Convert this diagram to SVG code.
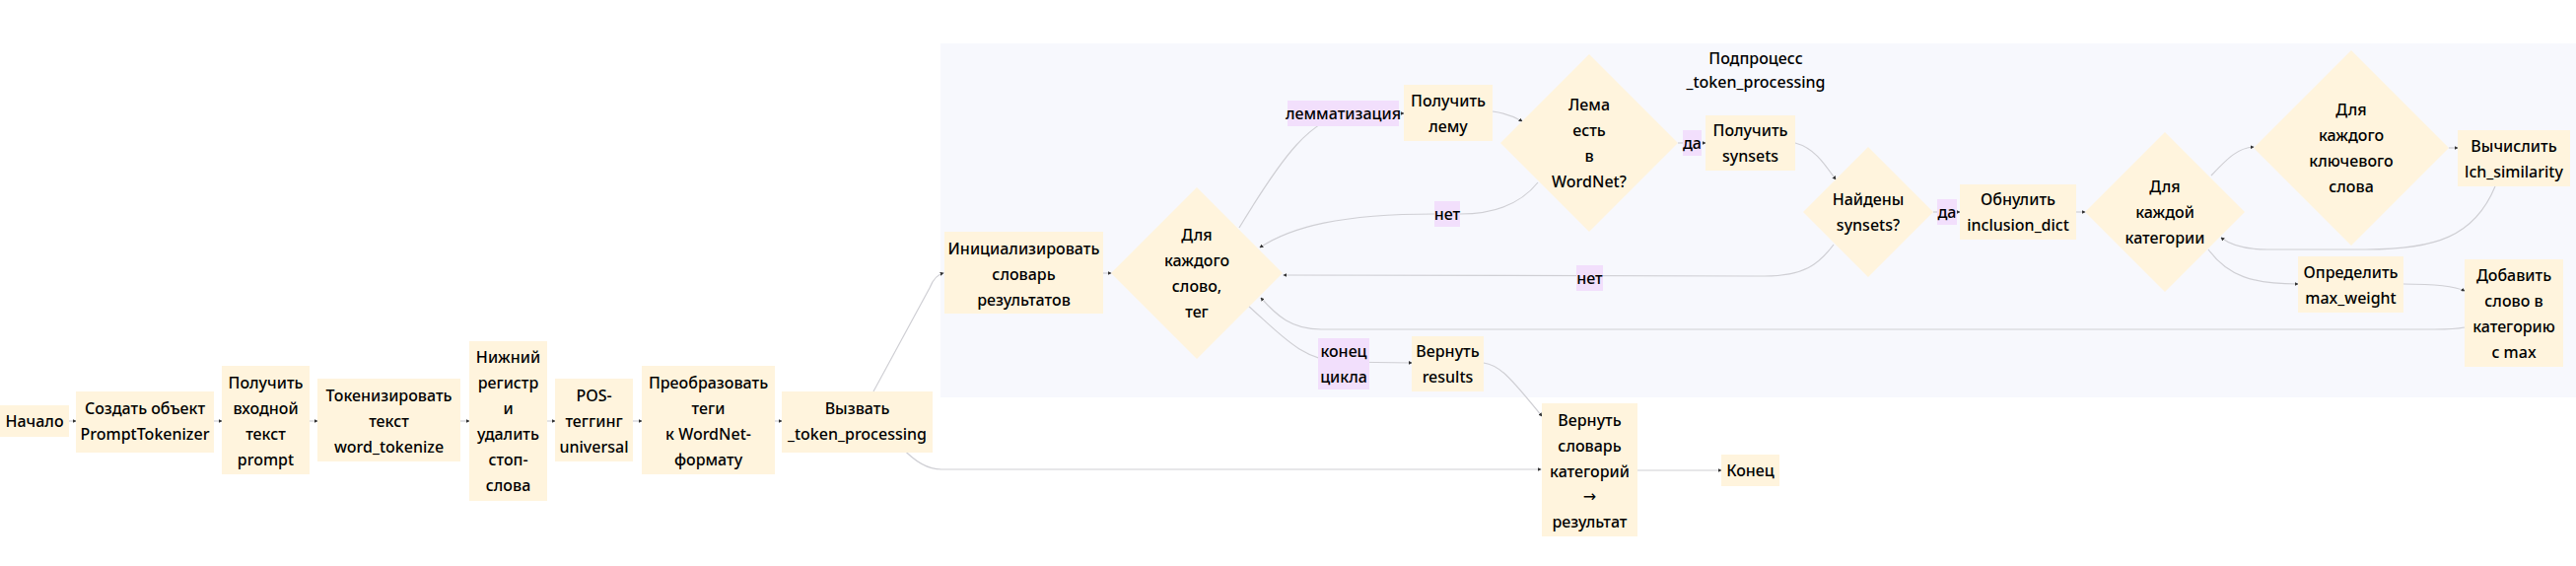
<svg xmlns="http://www.w3.org/2000/svg" width="2613" height="574" viewBox="0 0 2613 574">
<style>
text{font-family:"Noto Sans","DejaVu Sans",sans-serif;font-size:16px;font-weight:500;fill:#000;text-anchor:middle;dominant-baseline:central}
.n{fill:#fff4dd}
.lb{fill:#f2dffc}
.c{fill:none;stroke:#cfcfd4;stroke-width:1.2}
.sg{fill:#f7f8fd}
</style>
<defs>
<marker id="a" viewBox="0 0 6 6" refX="5" refY="3" markerWidth="4" markerHeight="4" orient="auto" markerUnits="userSpaceOnUse"><path d="M0,0L6,3L0,6z" fill="#333"/></marker>
</defs>
<rect class="sg" x="954" y="44" width="1659" height="359"/>
<g id="title"><text x="1781" y="59">Подпроцесс</text><text x="1781" y="83">_token_processing</text></g>
<g id="connectors">
<path class="c" marker-end="url(#a)" d="M70 427L77 427"/>
<path class="c" marker-end="url(#a)" d="M217 427L225 427"/>
<path class="c" marker-end="url(#a)" d="M314 427L322 427"/>
<path class="c" marker-end="url(#a)" d="M467 427L476 427"/>
<path class="c" marker-end="url(#a)" d="M555 427L563 427"/>
<path class="c" marker-end="url(#a)" d="M642 427L651 427"/>
<path class="c" marker-end="url(#a)" d="M786 427L793 427"/>
<path class="c" marker-end="url(#a)" d="M886 397L943 292Q948 279 957 277"/>
<path class="c" marker-end="url(#a)" d="M915 454Q935 476 955 476L1563 476"/>
<path class="c" marker-end="url(#a)" d="M1119 277L1127 277"/>
<path class="c" marker-end="url(#a)" d="M1257 231C1300 160 1330 118 1370 115L1424 115"/>
<path class="c" marker-end="url(#a)" d="M1514 113Q1530 115 1544 123"/>
<path class="c" marker-end="url(#a)" d="M1702 145L1730 145"/>
<path class="c" marker-end="url(#a)" d="M1560 185C1540 210 1510 217 1481 217L1455 217C1360 217 1310 230 1278 251"/>
<path class="c" marker-end="url(#a)" d="M1821 145C1840 150 1850 165 1862 182"/>
<path class="c" marker-end="url(#a)" d="M1961 215L1988 215"/>
<path class="c" marker-end="url(#a)" d="M1860 248C1845 268 1830 280 1790 280L1302 279"/>
<path class="c" marker-end="url(#a)" d="M2106 215L2115 215"/>
<path class="c" marker-end="url(#a)" d="M2243 178C2260 160 2270 150 2286 149"/>
<path class="c" marker-end="url(#a)" d="M2484 150L2493 150"/>
<path class="c" marker-end="url(#a)" d="M2531 189C2510 240 2470 253 2400 253L2300 253C2275 253 2262 248 2253 241"/>
<path class="c" marker-end="url(#a)" d="M2240 253C2260 280 2285 288 2331 288"/>
<path class="c" marker-end="url(#a)" d="M2438 288C2470 288 2490 290 2500 295"/>
<path class="c" marker-end="url(#a)" d="M2500 332C2490 334 2480 334 2470 334L1340 334C1310 334 1295 320 1279 302"/>
<path class="c" marker-end="url(#a)" d="M1266 310C1300 340 1320 365 1360 367L1432 368"/>
<path class="c" marker-end="url(#a)" d="M1505 368C1520 370 1530 380 1564 422"/>
<path class="c" marker-end="url(#a)" d="M1661 477L1746 477"/>
</g>
<g id="n_start"><rect class="n" x="0" y="411" width="70" height="32"/><text x="35" y="427">Начало</text></g>
<g id="n_create"><rect class="n" x="77" y="397" width="140" height="62"/><text x="147" y="414">Создать объект</text><text x="147" y="440">PromptTokenizer</text></g>
<g id="n_input"><rect class="n" x="225" y="371" width="89" height="110"/><text x="269.5" y="388">Получить</text><text x="269.5" y="414">входной</text><text x="269.5" y="440">текст</text><text x="269.5" y="466">prompt</text></g>
<g id="n_tokenize"><rect class="n" x="322" y="384" width="145" height="84"/><text x="394.5" y="401">Токенизировать</text><text x="394.5" y="427">текст</text><text x="394.5" y="453">word_tokenize</text></g>
<g id="n_lower"><rect class="n" x="476" y="346" width="79" height="162"/><text x="515.5" y="362">Нижний</text><text x="515.5" y="388">регистр</text><text x="515.5" y="414">и</text><text x="515.5" y="440">удалить</text><text x="515.5" y="466">стоп-</text><text x="515.5" y="492">слова</text></g>
<g id="n_pos"><rect class="n" x="563" y="384" width="79" height="84"/><text x="602.5" y="401">POS-</text><text x="602.5" y="427">теггинг</text><text x="602.5" y="453">universal</text></g>
<g id="n_convert"><rect class="n" x="651" y="371" width="135" height="110"/><text x="718.5" y="388">Преобразовать</text><text x="718.5" y="414">теги</text><text x="718.5" y="440">к WordNet-</text><text x="718.5" y="466">формату</text></g>
<g id="n_call"><rect class="n" x="793" y="397" width="153" height="62"/><text x="869.5" y="414">Вызвать</text><text x="869.5" y="440">_token_processing</text></g>
<g id="n_init"><rect class="n" x="958" y="235" width="161" height="83"/><text x="1038.5" y="252">Инициализировать</text><text x="1038.5" y="278">словарь</text><text x="1038.5" y="304">результатов</text></g>
<g id="d_foreach"><polygon class="n" points="1214,190 1301,277 1214,364 1127,277"/><text x="1214" y="238">Для</text><text x="1214" y="264">каждого</text><text x="1214" y="290">слово,</text><text x="1214" y="316">тег</text></g>
<g id="l_lemma"><rect class="lb" x="1306" y="102" width="113" height="26"/><text x="1362.5" y="115">лемматизация</text></g>
<g id="n_getlemma"><rect class="n" x="1424" y="86" width="90" height="57"/><text x="1469" y="102">Получить</text><text x="1469" y="128">лему</text></g>
<g id="d_lema"><polygon class="n" points="1612,55 1702,145 1612,235 1522,145"/><text x="1612" y="106">Лема</text><text x="1612" y="132">есть</text><text x="1612" y="158">в</text><text x="1612" y="184">WordNet?</text></g>
<g id="l_da1"><rect class="lb" x="1707" y="132" width="19" height="26"/><text x="1716.5" y="145">да</text></g>
<g id="n_synsets"><rect class="n" x="1730" y="117" width="91" height="56"/><text x="1775.5" y="132">Получить</text><text x="1775.5" y="158">synsets</text></g>
<g id="l_net1"><rect class="lb" x="1455" y="204" width="26" height="26"/><text x="1468" y="217">нет</text></g>
<g id="d_found"><polygon class="n" points="1895,149 1961,215 1895,281 1829,215"/><text x="1895" y="202">Найдены</text><text x="1895" y="228">synsets?</text></g>
<g id="l_da2"><rect class="lb" x="1965" y="202" width="20" height="26"/><text x="1975" y="215">да</text></g>
<g id="n_reset"><rect class="n" x="1988" y="187" width="118" height="56"/><text x="2047" y="202">Обнулить</text><text x="2047" y="228">inclusion_dict</text></g>
<g id="d_cat"><polygon class="n" points="2196,134 2277,215 2196,296 2115,215"/><text x="2196" y="189">Для</text><text x="2196" y="215">каждой</text><text x="2196" y="241">категории</text></g>
<g id="d_kw"><polygon class="n" points="2385,51 2484,150 2385,249 2286,150"/><text x="2385" y="111">Для</text><text x="2385" y="137">каждого</text><text x="2385" y="163">ключевого</text><text x="2385" y="189">слова</text></g>
<g id="n_lch"><rect class="n" x="2493" y="132" width="114" height="57"/><text x="2550" y="148">Вычислить</text><text x="2550" y="174">lch_similarity</text></g>
<g id="n_maxw"><rect class="n" x="2331" y="260" width="107" height="57"/><text x="2384.5" y="276">Определить</text><text x="2384.5" y="302">max_weight</text></g>
<g id="n_add"><rect class="n" x="2500" y="263" width="100" height="109"/><text x="2550" y="279">Добавить</text><text x="2550" y="305">слово в</text><text x="2550" y="331">категорию</text><text x="2550" y="357">с max</text></g>
<g id="l_net2"><rect class="lb" x="1599" y="269" width="27" height="26"/><text x="1612.5" y="282">нет</text></g>
<g id="l_end"><rect class="lb" x="1337" y="343" width="52" height="52"/><text x="1363" y="356">конец</text><text x="1363" y="382">цикла</text></g>
<g id="n_results"><rect class="n" x="1432" y="341" width="73" height="56"/><text x="1468.5" y="356">Вернуть</text><text x="1468.5" y="382">results</text></g>
<g id="n_retdict"><rect class="n" x="1564" y="409" width="97" height="135"/><text x="1612.5" y="426">Вернуть</text><text x="1612.5" y="452">словарь</text><text x="1612.5" y="478">категорий</text><text x="1612.5" y="503">→</text><text x="1612.5" y="529">результат</text></g>
<g id="n_end"><rect class="n" x="1746" y="461" width="59" height="32"/><text x="1775.5" y="477">Конец</text></g>
</svg>
